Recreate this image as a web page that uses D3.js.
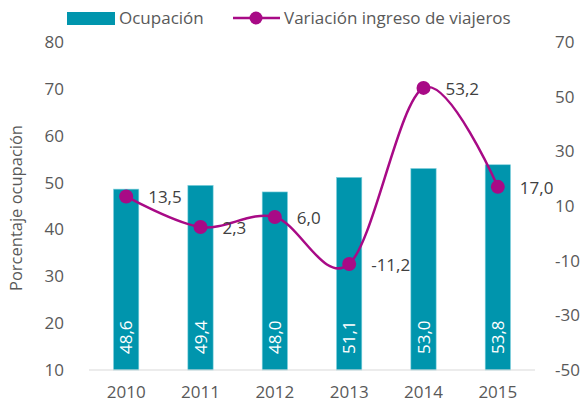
<!DOCTYPE html>
<html>
<head>
<meta charset="utf-8">
<script src="https://cdn.jsdelivr.net/npm/d3@7"></script>
<style>
  body { margin: 0; background: #fff; }
  svg { font-family: "Open Sans", "Liberation Sans", sans-serif; }
</style>
</head>
<body>
<div id="chart"></div>
<script>
// chart data
const years = ["2010", "2011", "2012", "2013", "2014", "2015"];
const ocupacion = [48.6, 49.4, 48.0, 51.1, 53.0, 53.8];
const variacion = [13.5, 2.3, 6.0, -11.2, 53.2, 17.0];
const leftTicks = [10, 20, 30, 40, 50, 60, 70, 80];
const rightTicks = [-50, -30, -10, 10, 30, 50, 70];

const width = 583, height = 409;
const margin = { top: 42, right: 48, bottom: 39, left: 89 };
const barColor = "#0095ad";
const lineColor = "#a80a86";
const textColor = "#595959";

// comma decimals, plain hyphen for negatives
const fmt = v => d3.format(".1f")(v).replace(".", ",").replace("\u2212", "-");

const svg = d3.select("#chart")
  .append("svg")
  .attr("width", width)
  .attr("height", height);

const x = d3.scaleBand()
  .domain(years)
  .range([margin.left, width - margin.right])
  .paddingInner(0.66)
  .paddingOuter(0.33);

const yLeft = d3.scaleLinear()
  .domain([10, 80])
  .range([height - margin.bottom, margin.top]);

const yRight = d3.scaleLinear()
  .domain([-50, 70])
  .range([height - margin.bottom, margin.top]);

// bars
svg.selectAll(".bar")
  .data(years)
  .enter()
  .append("rect")
    .attr("class", "bar")
    .attr("x", d => x(d))
    .attr("y", (d, i) => yLeft(ocupacion[i]))
    .attr("width", x.bandwidth())
    .attr("height", (d, i) => yLeft(10) - yLeft(ocupacion[i]))
    .attr("fill", barColor)
    .attr("stroke", "#7fd0dc")
    .attr("stroke-width", 0.6);

// bar labels, rotated, at the base
svg.selectAll(".barlabel")
  .data(years)
  .enter()
  .append("text")
    .attr("transform", d => `translate(${x(d) + x.bandwidth() / 2 + 6},${yLeft(10) - 16}) rotate(-90)`)
    .attr("fill", "#fff")
    .style("font-size", "17px")
    .text((d, i) => fmt(ocupacion[i]));

// x axis baseline
svg.append("line")
  .attr("x1", margin.left)
  .attr("x2", width - margin.right)
  .attr("y1", yLeft(10))
  .attr("y2", yLeft(10))
  .attr("stroke", "#d9d9d9")
  .attr("stroke-width", 1.2);

// x labels
svg.selectAll(".xlabel")
  .data(years)
  .enter()
  .append("text")
    .attr("x", d => x(d) + x.bandwidth() / 2)
    .attr("y", height - 11)
    .attr("text-anchor", "middle")
    .attr("fill", textColor)
    .style("font-size", "17px")
    .text(d => d);

// left ticks
svg.selectAll(".ltick")
  .data(leftTicks)
  .enter()
  .append("text")
    .attr("x", 64)
    .attr("y", d => yLeft(d))
    .attr("dy", "0.35em")
    .attr("text-anchor", "end")
    .attr("fill", textColor)
    .style("font-size", "17px")
    .text(d => d);

// right ticks
svg.selectAll(".rtick")
  .data(rightTicks)
  .enter()
  .append("text")
    .attr("x", 555)
    .attr("y", d => yRight(d))
    .attr("dy", "0.35em")
    .attr("text-anchor", "start")
    .attr("fill", textColor)
    .style("font-size", "17px")
    .text(d => d);

// y axis title
svg.append("text")
  .attr("transform", `translate(22,${(margin.top + height - margin.bottom) / 2 + 2}) rotate(-90)`)
  .attr("text-anchor", "middle")
  .attr("fill", textColor)
  .style("font-size", "16.5px")
  .text("Porcentaje ocupación");

// smoothed line
const line = d3.line()
  .x((d, i) => x(years[i]) + x.bandwidth() / 2)
  .y(d => yRight(d))
  .curve(d3.curveCatmullRom.alpha(0));

svg.append("path")
  .datum(variacion)
  .attr("fill", "none")
  .attr("stroke", lineColor)
  .attr("stroke-width", 2.5)
  .attr("d", line);

svg.selectAll(".dot")
  .data(variacion)
  .enter()
  .append("circle")
    .attr("cx", (d, i) => x(years[i]) + x.bandwidth() / 2)
    .attr("cy", d => yRight(d))
    .attr("r", 7)
    .attr("fill", lineColor);

svg.selectAll(".linelabel")
  .data(variacion)
  .enter()
  .append("text")
    .attr("x", (d, i) => x(years[i]) + x.bandwidth() / 2 + 22)
    .attr("y", d => yRight(d))
    .attr("dy", "0.4em")
    .attr("fill", "#404040")
    .style("font-size", "17px")
    .text(d => fmt(d));

// legend
const legend = svg.append("g");
legend.append("rect")
  .attr("x", 67).attr("y", 12)
  .attr("width", 48).attr("height", 13)
  .attr("fill", barColor);
legend.append("text")
  .attr("x", 119).attr("y", 18)
  .attr("dy", "0.35em")
  .attr("fill", textColor)
  .style("font-size", "17px")
  .text("Ocupación");
legend.append("line")
  .attr("x1", 233).attr("x2", 280)
  .attr("y1", 18).attr("y2", 18)
  .attr("stroke", lineColor)
  .attr("stroke-width", 2.5);
legend.append("circle")
  .attr("cx", 256).attr("cy", 18)
  .attr("r", 6.5)
  .attr("fill", lineColor);
legend.append("text")
  .attr("x", 284).attr("y", 18)
  .attr("dy", "0.35em")
  .attr("fill", textColor)
  .style("font-size", "17px")
  .text("Variación ingreso de viajeros");
</script>
</body>
</html>
